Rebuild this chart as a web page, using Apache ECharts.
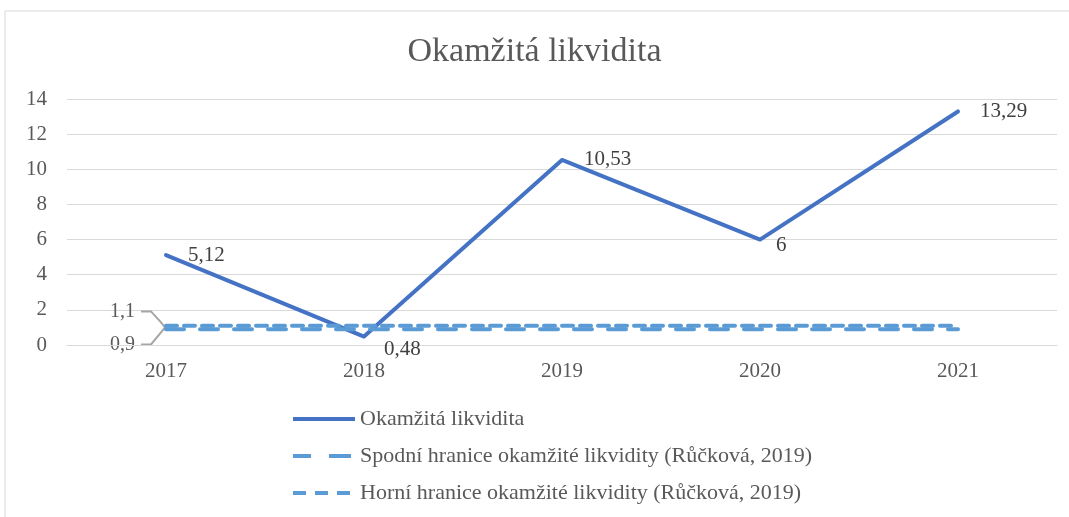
<!DOCTYPE html>
<html>
<head>
<meta charset="utf-8">
<script src="https://cdn.jsdelivr.net/npm/echarts@6/dist/echarts.min.js"></script>
<style>
  html, body { margin: 0; padding: 0; background: #fff; }
  #main { width: 1069px; height: 517px; }
</style>
</head>
<body>
<div id="main"></div>
<script>
var years = ['2017', '2018', '2019', '2020', '2021'];
var likvidita = [5.12, 0.48, 10.53, 6, 13.29];
var spodni = [0.9, 0.9, 0.9, 0.9, 0.9];
var horni = [1.1, 1.1, 1.1, 1.1, 1.1];
var yTicks = [0, 14, 2]; // min, max, interval

var serifFont = '"Liberation Serif", "Times New Roman", serif';
var textColor = '#595959';

function fmt(v) {
  return String(v).replace('.', ',');
}

var chart = echarts.init(document.getElementById('main'), null, { renderer: 'canvas' });

var mainData = likvidita.map(function (v, i) {
  var item = { value: v };
  // a few labels sit lower in the original
  if (i === 1) item.label = { offset: [-2, 13] };
  if (i === 3) item.label = { offset: [-6, 6] };
  return item;
});

// legend icons: solid line, long dash, short dash
var iconSolid = 'path://M0,0h62v4h-62z';
var iconLong = 'path://M0,0h18v4h-18z M36,0h22v4h-22z M62,0h0v4h0z';
var iconShort = 'path://M0,0h13v4h-13z M22,0h13v4h-13z M44,0h13v4h-13z M62,0h0v4h0z';

var option = {
  backgroundColor: '#fff',
  animation: false,
  title: {
    text: 'Okamžitá likvidita',
    left: 'center',
    top: 30,
    textStyle: {
      fontFamily: serifFont,
      fontSize: 34,
      fontWeight: 'normal',
      color: textColor
    }
  },
  legend: {
    orient: 'vertical',
    left: 288,
    top: 403,
    itemWidth: 62,
    itemHeight: 4,
    itemGap: 15,
    itemGap2: 0,
    data: [
      { name: 'Okamžitá likvidita', icon: iconSolid },
      { name: 'Spodní hranice okamžité likvidity (Růčková, 2019)', icon: iconLong },
      { name: 'Horní hranice okamžité likvidity (Růčková, 2019)', icon: iconShort }
    ],
    textStyle: {
      fontFamily: serifFont,
      fontSize: 22,
      color: textColor
    }
  },
  grid: {
    left: 67,
    right: 12,
    top: 99,
    bottom: 172,
    containLabel: false
  },
  xAxis: {
    type: 'category',
    data: years,
    boundaryGap: true,
    axisLine: { show: true, lineStyle: { color: '#d9d9d9', width: 1 } },
    axisTick: { show: false },
    axisLabel: {
      fontFamily: serifFont,
      fontSize: 21,
      color: textColor,
      margin: 16
    }
  },
  yAxis: {
    type: 'value',
    min: yTicks[0],
    max: yTicks[1],
    interval: yTicks[2],
    axisLine: { show: false },
    axisTick: { show: false },
    axisLabel: {
      fontFamily: serifFont,
      fontSize: 21,
      color: textColor,
      margin: 20
    },
    splitLine: { lineStyle: { color: '#d9d9d9', width: 1 } }
  },
  series: [
    {
      name: 'Okamžitá likvidita',
      type: 'line',
      data: mainData,
      symbol: 'circle',
      symbolSize: 0.1,
      showSymbol: true,
      lineStyle: { color: '#4472C4', width: 4, cap: 'round', join: 'round' },
      itemStyle: { color: '#4472C4' },
      label: {
        show: true,
        position: 'right',
        distance: 22,
        fontFamily: serifFont,
        fontSize: 21,
        color: '#404040',
        formatter: function (p) { return fmt(p.value); }
      }
    },
    {
      name: 'Spodní hranice okamžité likvidity (Růčková, 2019)',
      type: 'line',
      data: spodni,
      symbol: 'none',
      lineStyle: { color: '#5B9BD5', width: 4, type: [18, 16], cap: 'round' },
      itemStyle: { color: '#5B9BD5' }
    },
    {
      name: 'Horní hranice okamžité likvidity (Růčková, 2019)',
      type: 'line',
      data: horni,
      symbol: 'none',
      lineStyle: { color: '#5B9BD5', width: 4, type: [11, 7], cap: 'round' },
      itemStyle: { color: '#5B9BD5' }
    }
  ]
};

chart.setOption(option);

// outer border and brace with the 1,1 / 0,9 annotation
var pTop = chart.convertToPixel({ gridIndex: 0 }, [years[0], horni[0]]);
var pBot = chart.convertToPixel({ gridIndex: 0 }, [years[0], spodni[0]]);
var tipX = pTop[0] - 1;
var tipY = (pTop[1] + pBot[1]) / 2;
var armTop = tipY - 16;
var armBot = tipY + 17;

chart.setOption({
  graphic: [
    {
      type: 'rect',
      shape: { x: 5, y: 11, width: 1200, height: 700 },
      style: { fill: 'none', stroke: '#d9d9d9', lineWidth: 1 },
      silent: true
    },
    {
      type: 'polyline',
      shape: {
        points: [
          [tipX - 24, armTop], [tipX - 14, armTop],
          [tipX - 4, tipY - 5], [tipX, tipY],
          [tipX - 4, tipY + 5], [tipX - 14, armBot], [tipX - 24, armBot]
        ]
      },
      style: { fill: 'none', stroke: '#a6a6a6', lineWidth: 2 },
      silent: true
    },
    {
      type: 'text',
      x: tipX - 30,
      y: armTop,
      style: {
        text: fmt(horni[0]),
        align: 'right',
        verticalAlign: 'middle',
        font: '20px ' + serifFont,
        fill: textColor
      }
    },
    {
      type: 'text',
      x: tipX - 30,
      y: armBot,
      style: {
        text: fmt(spodni[0]),
        align: 'right',
        verticalAlign: 'middle',
        font: '20px ' + serifFont,
        fill: textColor
      }
    }
  ]
});
</script>
</body>
</html>
